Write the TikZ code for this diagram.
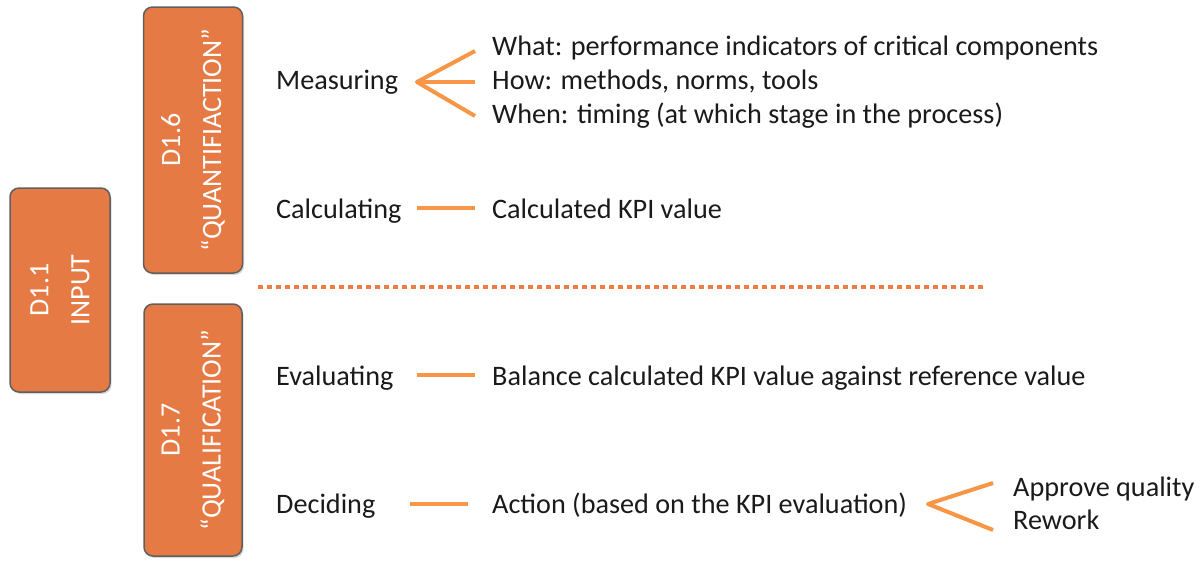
\documentclass[tikz,border=0pt]{standalone}
\usepackage{fontspec}
\setmainfont{Carlito}
\usetikzlibrary{shadows}
\definecolor{boxfill}{HTML}{E67A45}
\definecolor{boxline}{HTML}{5F5F5F}
\definecolor{linkc}{HTML}{F79646}
\definecolor{dotc}{HTML}{EB7D45}
\definecolor{txt}{HTML}{1A1A1A}
\begin{document}
\begin{tikzpicture}[x=1pt,y=-1pt,
  box/.style={draw=boxline, line width=1.5pt, fill=boxfill, rounded corners=9pt,
    rotate=90, text=white, align=center, inner sep=0pt,
    font=\fontsize{28}{41}\selectfont,
    drop shadow={opacity=0.3, shadow xshift=1.5pt, shadow yshift=-2pt}},
  lbl/.style={anchor=base west, inner sep=0pt, text=txt, font=\fontsize{28.2}{34}\selectfont},
  link/.style={draw=linkc, line width=4pt, line join=round},
  sep/.style={draw=dotc, line width=4pt, dash pattern=on 4.5pt off 4.5pt}]
\useasboundingbox (0,0) rectangle (1204,560);
% boxes
\node[box, minimum width=204pt, minimum height=100pt] (input) at (60,290) {D1.1\\INPUT};
\node[box, minimum width=266pt, minimum height=99pt] (quant) at (193,140) {D1.6\\“QUANTIFIACTION”};
\node[box, minimum width=252pt, minimum height=98pt] (qual) at (193,430) {D1.7\\“QUALIFICATION”};
% labels
\node[lbl] (meas) at (276,89) {Measuring};
\node[lbl] (what) at (492,55) {What: performance indicators of critical components};
\node[lbl] (how) at (492,89) {How: methods, norms, tools};
\node[lbl] (when) at (492,123) {When: timing (at which stage in the process)};
\node[lbl] (calc) at (276,218) {Calculating};
\node[lbl] (calcd) at (492,218) {Calculated KPI value};
\node[lbl] (eval) at (276,385) {Evaluating};
\node[lbl] (bal) at (492,385) {Balance calculated KPI value against reference value};
\node[lbl] (dec) at (276,513) {Deciding};
\node[lbl] (act) at (492,513) {Action (based on the KPI evaluation)};
\node[lbl] (appr) at (1013,496) {Approve quality};
\node[lbl] (rew) at (1013,529) {Rework};
% connector points
\coordinate (mA) at (417,82);
\coordinate (mT) at (475,51);
\coordinate (mM) at (475,82);
\coordinate (mB) at (475,116);
\coordinate (cL) at (417,208);
\coordinate (cR) at (475,208);
\coordinate (eL) at (417,375);
\coordinate (eR) at (475,375);
\coordinate (dL) at (410,504);
\coordinate (dR) at (468,504);
\coordinate (aA) at (928,504);
\coordinate (aT) at (993,483);
\coordinate (aB) at (993,530);
\coordinate (sL) at (258,287);
\coordinate (sR) at (984,287);
% connectors
\draw[link] (mT) -- (mA) -- (mB);
\draw[link] (mA) -- (mM);
\draw[link] (cL) -- (cR);
\draw[link] (eL) -- (eR);
\draw[link] (dL) -- (dR);
\draw[link] (aT) -- (aA) -- (aB);
\draw[sep] (sL) -- (sR);
\end{tikzpicture}
\end{document}
